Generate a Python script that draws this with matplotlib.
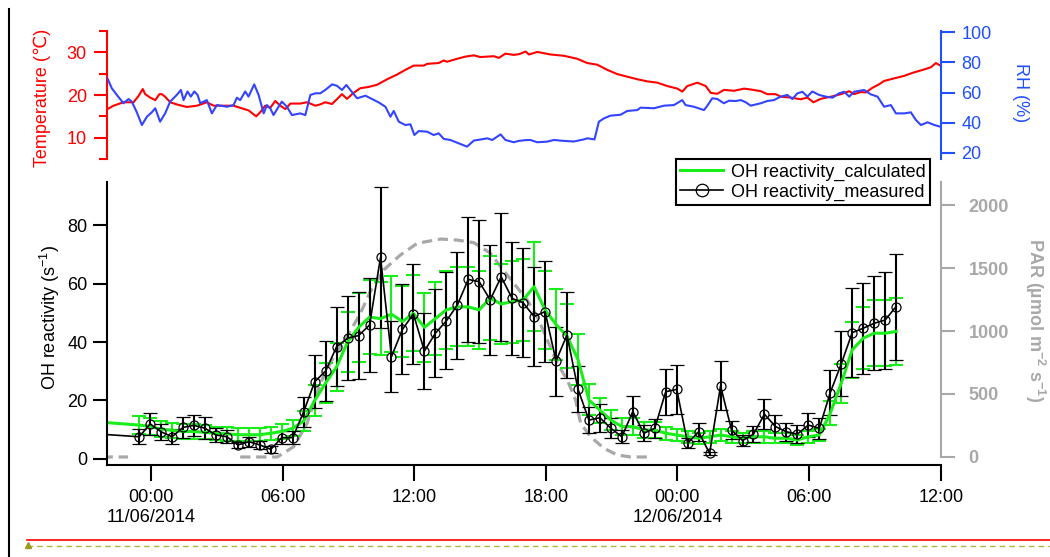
import matplotlib
matplotlib.use('Agg')
import matplotlib.pyplot as plt
import matplotlib.dates as mdates
from matplotlib.lines import Line2D
from matplotlib.ticker import FuncFormatter
import numpy as np
import pandas as pd

plt.rcParams['font.family'] = ['Liberation Sans', 'DejaVu Sans']
plt.rcParams['font.size'] = 13
plt.rcParams['mathtext.fontset'] = 'custom'
plt.rcParams['mathtext.rm'] = 'Liberation Sans'
plt.rcParams['mathtext.bf'] = 'Liberation Sans:bold'

# jam sejak 11/06/2014 00:00
t0 = pd.Timestamp('2014-06-11 00:00')

# suhu (C)
temp_h = [-1.98, -1.70, -1.25, -0.79, -0.56, -0.37, -0.26, -0.03, 0.20, 0.39, 0.50, 0.65, 0.88, 1.18, 1.64,
          2.10, 2.55, 2.86, 3.47, 3.77, 4.07, 4.45, 4.80, 4.99, 5.21, 5.44, 5.67, 5.90, 6.13, 6.36, 6.81,
          7.12, 7.50, 7.72, 7.95, 8.26, 8.71, 8.94, 9.24, 9.55, 9.93, 10.31, 10.77, 11.22, 11.60, 11.98,
          12.44, 12.59, 13.12, 13.35, 13.50, 13.96, 14.34, 14.72, 15.02, 15.33, 15.63, 15.86, 16.16, 16.54,
          16.80, 17.08, 17.23, 17.61, 18.22, 18.82, 19.43, 19.89, 20.35, 20.80, 21.26, 21.71, 22.17, 22.63,
          23.08, 23.54, 24.00, 24.22, 24.45, 24.91, 25.29, 25.52, 25.82, 26.12, 26.58, 27.04, 27.34, 27.80,
          28.10, 28.48, 28.71, 29.17, 29.62, 29.92, 30.20, 30.53, 30.99, 31.45, 31.83, 32.05, 32.36, 32.59,
          32.89, 33.19, 33.42, 33.88, 34.34, 34.72, 35.25, 35.55, 35.78, 35.98]
temp_c = [16.7, 17.5, 18.3, 18.3, 19.8, 21.4, 20.2, 19.4, 18.8, 20.2, 20.2, 19.6, 18.3, 17.8, 17.2,
          17.5, 18.3, 17.5, 17.5, 17.5, 17.0, 16.4, 15.0, 16.0, 17.5, 17.0, 18.6, 17.5, 16.7, 18.0, 18.0,
          18.3, 17.5, 17.8, 18.3, 17.9, 20.2, 19.1, 20.5, 21.6, 21.9, 22.4, 23.7, 24.8, 25.9, 26.9,
          26.9, 27.3, 27.5, 28.1, 27.8, 28.5, 29.0, 29.3, 28.9, 29.0, 29.1, 28.7, 29.7, 29.4,
          29.6, 30.2, 29.5, 30.1, 29.5, 29.2, 28.5, 27.5, 27.1, 25.9, 24.9, 24.3, 23.7, 23.2,
          22.9, 22.1, 21.5, 20.8, 22.1, 22.9, 22.1, 20.5, 20.3, 21.2, 21.0, 21.5, 21.3, 20.9,
          20.2, 20.2, 19.6, 19.4, 19.0, 19.4, 18.3, 19.1, 19.6, 20.2, 20.9, 20.2, 20.7, 20.6,
          21.7, 22.5, 23.3, 23.9, 24.5, 25.2, 26.0, 26.5, 27.5, 26.9]

# kelembapan relatif (%)
rh_h = [-1.98, -1.78, -1.55, -1.25, -1.02, -0.87, -0.64, -0.41, -0.18, 0.04, 0.20, 0.42, 0.65, 0.88, 1.18,
        1.37, 1.49, 1.67, 1.82, 1.98, 2.13, 2.25, 2.55, 2.78, 3.01, 3.47, 3.77, 3.92, 4.07, 4.30, 4.45,
        4.71, 4.91, 5.14, 5.29, 5.44, 5.59, 5.82, 5.97, 6.20, 6.43, 6.81, 7.04, 7.27, 7.50, 7.72, 7.95,
        8.26, 8.48, 8.71, 8.91, 9.09, 9.40, 9.78, 10.08, 10.38, 10.69, 10.92, 11.07, 11.30, 11.60, 11.83,
        12.01, 12.21, 12.59, 12.89, 13.12, 13.35, 13.65, 14.03, 14.41, 14.72, 15.02, 15.33, 15.56, 15.94,
        16.16, 16.54, 16.77, 17.08, 17.30, 17.61, 18.06, 18.37, 18.82, 19.28, 19.74, 19.89, 20.22, 20.42,
        20.65, 20.95, 21.41, 21.71, 22.17, 22.32, 22.93, 23.39, 23.84, 24.22, 24.37, 24.75, 25.21, 25.33,
        25.59, 25.82, 26.12, 26.35, 26.66, 26.89, 27.12, 27.34, 27.80, 28.10, 28.40, 28.71, 29.01, 29.24,
        29.47, 29.70, 29.92, 30.15, 30.46, 30.76, 31.07, 31.37, 31.60, 31.83, 32.05, 32.51, 32.81, 33.12,
        33.42, 33.73, 33.96, 34.34, 34.64, 34.87, 35.10, 35.40, 35.71, 35.98]
rh = [69.4, 62.8, 58.4, 52.9, 55.7, 54.0, 46.9, 38.5, 44.0, 46.9, 49.6, 40.7, 46.2, 54.0, 58.4,
      61.7, 55.0, 60.7, 57.3, 60.7, 58.4, 52.9, 55.0, 46.2, 51.7, 50.6, 51.7, 56.6, 55.0, 60.7, 57.3,
      65.4, 58.4, 46.2, 51.7, 49.6, 45.1, 50.6, 54.0, 50.6, 45.1, 46.2, 45.1, 58.4, 59.5, 59.5, 61.7,
      65.4, 64.5, 61.7, 65.0, 61.7, 56.2, 57.9, 55.7, 53.5, 50.6, 44.0, 47.8, 40.7, 38.5, 39.0,
      31.9, 34.5, 34.1, 31.9, 33.0, 29.3, 28.6, 26.4, 24.2, 28.2, 28.9, 29.7, 28.6, 32.3,
      28.6, 27.1, 28.0, 28.5, 28.6, 27.1, 27.5, 28.6, 28.0, 27.6, 29.0, 29.7, 29.0, 40.7,
      42.9, 44.7, 45.3, 47.8, 48.4, 50.0, 49.6, 51.3, 51.7, 55.0, 51.7, 50.6, 48.4, 50.6,
      56.2, 55.7, 52.9, 54.6, 54.4, 55.0, 53.5, 51.3, 52.9, 54.4, 55.0, 57.3, 58.4, 55.7,
      59.5, 60.5, 57.3, 60.7, 58.4, 57.3, 56.6, 59.5, 60.5, 57.3, 60.5, 61.7, 58.8, 57.3,
      50.6, 51.7, 46.2, 46.2, 46.9, 41.8, 38.5, 40.3, 38.5, 37.4]

# PAR (umol m-2 s-1), nan = tidak ada data
par_h = [-2.2, -1.04, -1.0, 4.07, 5.76, 6.04, 6.51, 7.12, 7.72, 8.33, 8.94, 9.55, 10.0, 10.61, 11.37,
         12.14, 13.2, 13.96, 14.72, 15.48, 15.94, 16.54, 17.15, 17.61, 18.07, 18.52, 18.98, 19.36, 19.59,
         20.04, 20.65, 21.26, 21.87, 22.86]
par = [0, 0, np.nan, 0, 0, 30, 82, 267, 585, 796, 955, 1140, 1312, 1484, 1603,
       1696, 1730, 1722, 1701, 1617, 1511, 1379, 1246, 1113, 929, 744, 611, 452, 267,
       161, 69, 16, 0, 0]

# OH reactivity tiap 30 menit (titik pertama di luar sumbu)
oh_time = pd.DatetimeIndex(['2014-06-10 21:30']).append(
    pd.date_range('2014-06-10 23:28', periods=70, freq='30min'))
oh_meas = [8.6,
           7.6, 12.0, 9.3, 7.6, 10.8, 11.5, 10.5, 8.2, 7.6, 4.8, 5.9, 4.8, 3.3, 7.3, 7.3, 16.2, 26.4, 30.1, 38.4, 41.3,
           42.2, 45.8, 68.9, 35.0, 44.3, 49.6, 36.9, 43.0, 47.2, 52.6, 61.4, 60.6, 54.4, 62.3, 54.9, 53.4,
           48.7, 50.4, 33.5, 42.4, 23.9, 13.3, 14.1, 10.5, 7.6, 16.2, 8.8, 10.5, 23.0, 23.8, 5.4, 9.3,
           1.9, 25.0, 9.9, 6.3, 8.5, 15.3, 11.1, 9.3, 8.5, 11.6, 10.5, 22.7, 32.5, 43.2, 44.7, 46.4, 47.5, 52.1]
oh_meas_err = [0,
               2.5, 3.7, 2.8, 2.5, 3.7, 3.7, 3.7, 2.5, 2.3, 1.1, 1.7, 1.5, 1.1, 2.3, 2.3, 5.1, 9.1, 10.4, 13.4, 14.4,
               14.8, 16.0, 24.0, 12.2, 15.4, 17.2, 12.9, 15.0, 16.6, 18.3, 21.4, 21.0, 18.8, 21.8, 19.2, 18.6,
               16.9, 17.4, 11.8, 14.7, 8.0, 4.4, 4.8, 3.4, 2.3, 5.4, 2.7, 3.2, 7.9, 8.4, 1.7, 3.0,
               0.6, 8.4, 3.2, 2.0, 2.7, 5.1, 3.9, 3.1, 3.0, 4.0, 3.6, 7.8, 11.1, 15.1, 15.5, 16.0, 16.6, 18.1]
oh_calc = [12.7,
           11.6, 11.1, 10.2, 9.8, 9.4, 9.4, 9.1, 8.8, 8.6, 8.3, 8.3, 8.3, 8.8, 9.4, 10.5, 13.0, 20.0, 26.0, 31.5, 40.0,
           45.0, 48.5, 48.0, 49.5, 47.0, 49.8, 45.0, 48.0, 51.0, 52.0, 52.0, 51.0, 55.0, 53.0, 53.8, 54.4,
           58.9, 51.0, 46.0, 42.0, 34.0, 20.2, 16.7, 13.3, 11.1, 11.1, 9.9, 9.9, 8.8, 8.2, 7.6, 7.1,
           7.6, 8.2, 7.6, 7.1, 7.6, 7.6, 7.1, 7.1, 6.5, 7.6, 8.2, 15.6, 25.9, 37.3, 41.3, 43.0, 43.0, 43.6]
oh_calc_err = [0,
               3.0, 3.0, 2.8, 2.6, 2.5, 2.5, 2.4, 2.3, 2.3, 2.2, 2.2, 2.2, 2.3, 2.5, 2.8, 3.4, 5.2, 6.8, 8.2, 10.4,
               11.7, 12.6, 12.5, 12.9, 12.2, 13.0, 11.7, 12.5, 13.3, 13.5, 13.5, 13.3, 14.3, 13.8, 14.0, 14.1,
               15.3, 13.3, 12.0, 10.9, 8.8, 5.3, 4.3, 3.5, 2.9, 2.9, 2.6, 2.6, 2.3, 2.1, 2.0, 1.9,
               2.0, 2.1, 2.0, 1.8, 2.0, 2.0, 1.8, 1.8, 1.7, 2.0, 2.1, 4.1, 6.7, 9.7, 10.7, 11.2, 11.2, 11.3]

merah = '#ff0000'
biru = '#3344ff'
biru_sumbu = '#1f4fff'
hijau = '#1aee1a'
abu = '#a8a8a8'


def jam(h):
    return t0 + pd.to_timedelta(h, unit='h')


xmin = t0 - pd.Timedelta(hours=2)
xmax = t0 + pd.Timedelta(hours=36)

fig = plt.figure(figsize=(10.5, 5.57), dpi=100)

# panel atas: suhu dan RH
ax_t = fig.add_axes([0.1019, 0.7145, 0.794, 0.2298])
ax_rh = ax_t.twinx()
ax_t.plot(jam(temp_h), temp_c, color=merah, lw=1.5)
ax_rh.plot(jam(rh_h), rh, color=biru, lw=1.5)
ax_t.set_xlim(xmin, xmax)
ax_t.set_ylim(5, 35)
ax_t.set_yticks([10, 20, 30])
ax_t.set_yticks([5, 15, 25, 35], minor=True)
ax_rh.set_ylim(16.0, 100.7)
ax_rh.set_yticks([20, 40, 60, 80, 100])
for s in ['top', 'bottom', 'right']:
    ax_t.spines[s].set_visible(False)
for s in ['top', 'bottom', 'left']:
    ax_rh.spines[s].set_visible(False)
ax_t.spines['left'].set_color(merah)
ax_t.spines['left'].set_linewidth(1.5)
ax_rh.spines['right'].set_color(biru_sumbu)
ax_rh.spines['right'].set_linewidth(1.5)
ax_t.tick_params(axis='x', bottom=False, labelbottom=False)
ax_t.tick_params(axis='y', which='major', length=9.5, width=1.5, colors=merah, pad=5)
ax_t.tick_params(axis='y', which='minor', length=5.5, width=1.5, color=merah)
ax_rh.tick_params(axis='y', length=10, width=1.5, colors=biru_sumbu, pad=5)

# panel bawah: OH reactivity dan PAR
ax = fig.add_axes([0.1019, 0.1652, 0.794, 0.508])
ax_par = ax.twinx()
ax_par.plot(jam(par_h), par, color=abu, lw=2.3, ls=(0, (3.2, 1.8)))
ax.errorbar(oh_time, oh_calc, yerr=oh_calc_err, color=hijau, lw=2.2,
            elinewidth=1.5, capsize=5, capthick=1.5)
ax.errorbar(oh_time, oh_meas, yerr=oh_meas_err, color='black', lw=1.2, marker='o',
            mfc='none', mec='black', ms=6.5, mew=0.9, elinewidth=1.5, capsize=5, capthick=1.5)
ax.set_zorder(ax_par.get_zorder() + 1)
ax.patch.set_visible(False)

ax.set_xlim(xmin, xmax)
ax.set_ylim(-2.05, 94.7)
ax.set_yticks([0, 20, 40, 60, 80])
ax_par.set_ylim(-63.5, 2182.5)
ax_par.set_yticks([0, 500, 1000, 1500, 2000])
for lbl in ax_par.get_yticklabels():
    lbl.set_fontweight('bold')
ax.spines['top'].set_visible(False)
ax.spines['right'].set_visible(False)
for s in ['top', 'bottom', 'left']:
    ax_par.spines[s].set_visible(False)
ax_par.spines['right'].set_color(abu)
ax_par.spines['right'].set_linewidth(1.5)
ax_par.spines['right'].set_bounds(0, 2182.5)
ax.spines['left'].set_linewidth(1.5)
ax.spines['bottom'].set_linewidth(1.5)

ax.xaxis.set_major_locator(mdates.HourLocator(byhour=[0, 6, 12, 18]))


def format_jam(x, pos):
    d = mdates.num2date(x)
    if d.hour == 0:
        return d.strftime('%H:%M\n%d/%m/%Y')
    return d.strftime('%H:%M')


ax.xaxis.set_major_formatter(FuncFormatter(format_jam))
ax.tick_params(axis='x', length=11.5, width=1.5, pad=6)
ax.tick_params(axis='y', length=10, width=1.5, pad=4)
ax_par.tick_params(axis='y', length=10, width=1.5, colors=abu, pad=10)

# legenda
handles = [Line2D([], [], color=hijau, lw=2.2),
           Line2D([], [], color='black', lw=1.2, marker='o', mfc='none', ms=9, mew=0.9)]
leg = ax.legend(handles, ['OH reactivity_calculated', 'OH reactivity_measured'],
                loc='upper right', bbox_to_anchor=(0.987, 1.081), borderaxespad=0,
                fancybox=False, edgecolor='black', framealpha=1, handlelength=2.4,
                handletextpad=0.4, labelspacing=0.15, borderpad=0.25)
leg.get_frame().set_linewidth(1.5)

# label sumbu
fig.text(0.040, 1 - 98 / 557, 'Temperature (\u2103)', color=merah, rotation=90,
         ha='center', va='center')
fig.text(0.972, 1 - 93 / 557, 'RH (%)', color=biru_sumbu, rotation=-90,
         ha='center', va='center')
fig.text(0.048, 1 - 318 / 557, 'OH reactivity (s$^{-1}$)', color='black', rotation=90,
         ha='center', va='center')
fig.text(0.986, 1 - 320 / 557, 'PAR (\u00b5mol m$^{\\mathbf{-2}}$ s$^{\\mathbf{-1}}$)', color=abu,
         rotation=-90, ha='center', va='center', fontweight='bold')

# garis tepi halaman
fig.add_artist(Line2D([0.0086, 0.0086], [0.0, 0.984], color='black', lw=1.5))
fig.add_artist(Line2D([0.0257, 1.0], [0.0305, 0.0305], color=merah, lw=1.2))
fig.add_artist(Line2D([0.0257, 1.0], [0.0197, 0.0197], color='#b5b53a', lw=1.0, ls=(0, (4, 3))))
fig.add_artist(Line2D([0.0262], [0.0215], color='#9a9a20', marker='^', ms=4, lw=0))

fig.savefig('out.png', dpi=100)
